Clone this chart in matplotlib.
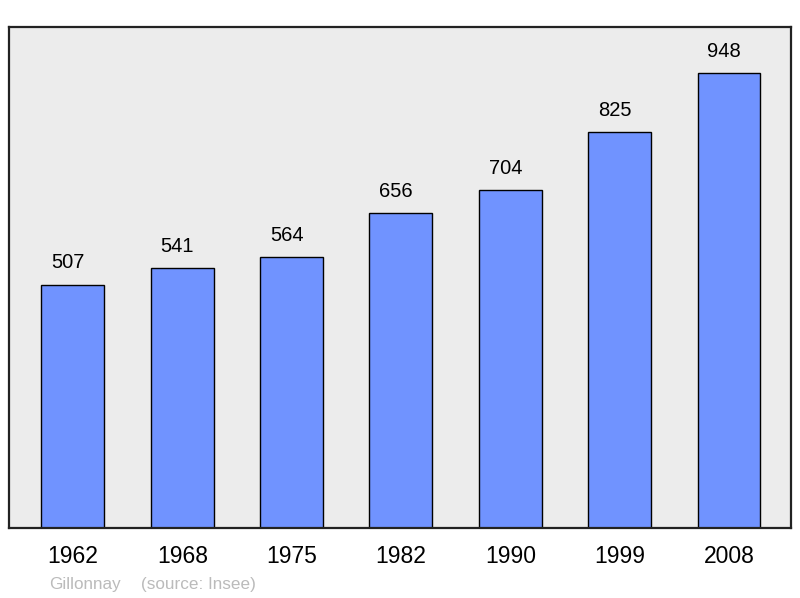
import matplotlib.pyplot as plt

plt.rcParams['font.family'] = ['Liberation Sans', 'DejaVu Sans']

years = ["1962", "1968", "1975", "1982", "1990", "1999", "2008"]
population = [507, 541, 564, 656, 704, 825, 948]

fig = plt.figure(figsize=(8, 5.98), dpi=100)
ax = fig.add_axes([9 / 800, 1 - 528 / 598, 782 / 800, 501 / 598])
ax.set_facecolor('#ececec')

x = range(len(years))
bars = ax.bar(x, population, width=0.576, color='#7093ff', edgecolor='k', lw=1, zorder=2)
for xi, v in zip(x, population):
    ax.annotate(str(v), (xi, v), xytext=(-3.5, 9), textcoords='offset points',
                ha='center', va='bottom', fontsize=14.5)

ax.set_xlim(-0.585, 6.567)
ax.set_ylim(0, 1044)
ax.set_xticks(list(x))
ax.set_xticklabels(years, fontsize=16.5)
ax.tick_params(axis='x', length=0, pad=12.5)
ax.set_yticks([])
for s in ax.spines.values():
    s.set_linewidth(1.6)
    s.set_color('#222222')

fig.text(49 / 800, 1 - 584 / 598, "Gillonnay", color='#bbbbbb', fontsize=12.3, va='center')
fig.text(141 / 800, 1 - 584 / 598, "(source: Insee)", color='#bbbbbb', fontsize=12.3, va='center')

fig.savefig('out.png', dpi=100)
